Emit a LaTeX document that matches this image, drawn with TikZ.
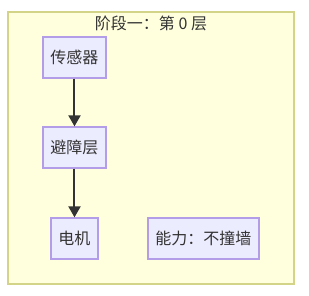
\documentclass[tikz,border=0pt]{standalone}
\usepackage{fontspec}
\setmainfont{Noto Sans CJK SC}
\usetikzlibrary{arrows.meta}
\definecolor{clfill}{HTML}{FFFFDE}
\definecolor{clline}{HTML}{D4D488}
\definecolor{ndfill}{HTML}{ECECFF}
\definecolor{ndline}{HTML}{B39DE8}
\definecolor{txt}{HTML}{333333}
\begin{document}
\begin{tikzpicture}[x=1pt,y=-1pt,
  nodebox/.style={draw=ndline,fill=ndfill,line width=1.3pt,text=txt,font=\fontsize{16}{19}\selectfont,inner sep=0pt,minimum height=41pt},
  flow/.style={draw=txt,line width=2pt,-{Triangle[length=11pt,width=12pt]}}]
\useasboundingbox (0,0) rectangle (309,296);
\node[draw=clline,fill=clfill,line width=1.5pt,minimum width=286pt,minimum height=272pt,inner sep=0pt] (cl) at (151,148) {};
\node[text=txt,font=\fontsize{16}{19}\selectfont] (title) at (151,23) {阶段一：第 0 层};
\node[nodebox,minimum width=63pt] (s) at (74.5,57.5) {传感器};
\node[nodebox,minimum width=63pt] (a) at (74.5,147.5) {避障层};
\node[nodebox,minimum width=47pt] (m) at (74.5,238.5) {电机};
\node[nodebox,minimum width=111pt] (c) at (203.5,238.5) {能力：不撞墙};
\draw[flow] (s) -- (a);
\draw[flow] (a) -- (m);
\end{tikzpicture}
\end{document}
